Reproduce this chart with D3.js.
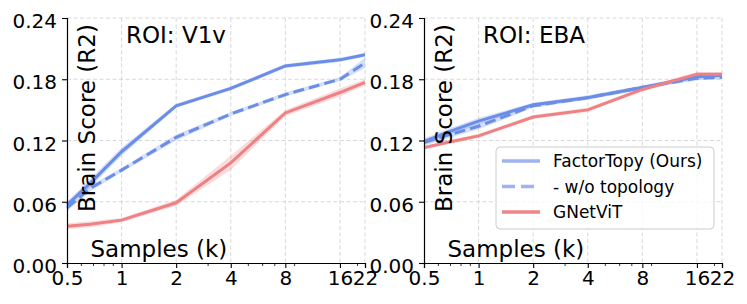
<!DOCTYPE html>
<html>
<head>
<meta charset="utf-8">
<script src="https://cdn.jsdelivr.net/npm/d3@7/dist/d3.min.js"></script>
<style>
  html, body { margin: 0; padding: 0; background: #fff; }
  svg { display: block; font-family: "DejaVu Sans", sans-serif; }
</style>
</head>
<body>
<div id="chart"></div>
<script>
// samples (k) on a log axis
const samples = [0.5, 0.67, 1, 2, 4, 8, 16, 22];
const xTicks = [0.5, 1, 2, 4, 8, 16, 22];
const xMinor = [0.6, 0.7, 0.8, 0.9, 3, 5, 6, 7, 9, 20];
const yTicks = [0, 0.06, 0.12, 0.18, 0.24];

// ROI: V1v
const v1vFactorTopy = [0.057, 0.078, 0.109, 0.154, 0.171, 0.193, 0.199, 0.204];
const v1vFactorTopyErr = [0.003, 0.004, 0.004, 0.002, 0.002, 0.002, 0.002, 0.002];
const v1vNoTopo = [0.054, 0.073, 0.091, 0.123, 0.146, 0.165, 0.180, 0.196];
const v1vNoTopoErr = [0.003, 0.003, 0.002, 0.003, 0.002, 0.002, 0.002, 0.005];
const v1vGNet = [0.036, 0.038, 0.042, 0.059, 0.098, 0.147, 0.167, 0.177];
const v1vGNetErr = [0.003, 0.003, 0.002, 0.003, 0.007, 0.003, 0.004, 0.003];

// ROI: EBA
const ebaFactorTopy = [0.119, 0.128, 0.139, 0.155, 0.162, 0.172, 0.1825, 0.184];
const ebaFactorTopyErr = [0.003, 0.003, 0.003, 0.002, 0.002, 0.002, 0.002, 0.002];
const ebaNoTopo = [0.118, 0.125, 0.134, 0.154, 0.162, 0.172, 0.181, 0.182];
const ebaNoTopoErr = [0.003, 0.003, 0.003, 0.002, 0.002, 0.002, 0.002, 0.002];
const ebaGNet = [0.113, 0.118, 0.1245, 0.143, 0.150, 0.170, 0.185, 0.185];
const ebaGNetErr = [0.002, 0.002, 0.002, 0.002, 0.002, 0.002, 0.002, 0.002];

const legendLabels = ["FactorTopy (Ours)", "- w/o topology", "GNetViT"];

const BLUE = "#6a8de8";
const RED = "#ef8083";

const WIDTH = 747, HEIGHT = 304;
const PW = 298, PH = 245, TOP = 18;

const svg = d3.select("#chart").append("svg")
  .attr("width", WIDTH).attr("height", HEIGHT);

const x = d3.scaleLog().domain([0.5, 22]).range([0, PW]);
const y = d3.scaleLinear().domain([0, 0.24]).range([PH, 0]);

const line = d3.line().x(d => x(d.x)).y(d => y(d.v));
const band = d3.area().x(d => x(d.x)).y0(d => y(d.v - d.e)).y1(d => y(d.v + d.e));

function pts(vals, errs) {
  return samples.map((s, i) => ({ x: s, v: vals[i], e: errs[i] }));
}

function drawPanel(left, title, series) {
  const g = svg.append("g").attr("transform", `translate(${left},${TOP})`);

  // grid
  g.selectAll("line.hgrid").data(yTicks.slice(1)).join("line")
    .attr("x1", 0).attr("x2", PW)
    .attr("y1", d => y(d)).attr("y2", d => y(d))
    .attr("stroke", "#d4d4d4").attr("stroke-width", 0.9).attr("stroke-dasharray", "4,2.5");
  g.selectAll("line.vgrid").data(xTicks.slice(1)).join("line")
    .attr("x1", d => x(d)).attr("x2", d => x(d))
    .attr("y1", 0).attr("y2", PH)
    .attr("stroke", "#d4d4d4").attr("stroke-width", 0.9).attr("stroke-dasharray", "4,2.5");

  // bands then lines
  series.forEach(s => {
    g.append("path").datum(s.data)
      .attr("d", band).attr("fill", s.color).attr("fill-opacity", 0.28);
  });
  series.forEach(s => {
    g.append("path").datum(s.data)
      .attr("d", line).attr("fill", "none")
      .attr("stroke", s.color).attr("stroke-width", 3)
      .attr("stroke-dasharray", s.dash || null);
  });

  // axes
  const xAxis = d3.axisBottom(x).tickValues(xTicks)
    .tickFormat(d => d < 1 ? "0.5" : d3.format("d")(d))
    .tickSize(5).tickPadding(3);
  const gx = g.append("g").attr("transform", `translate(0,${PH})`).call(xAxis);
  gx.selectAll("text").attr("font-size", 20).attr("font-family", "DejaVu Sans").attr("fill", "#000");
  gx.select(".domain").attr("stroke", "#000").attr("stroke-width", 1.2);
  gx.selectAll(".tick line").attr("stroke", "#000").attr("stroke-width", 1.1);
  g.append("g").attr("transform", `translate(0,${PH})`)
    .selectAll("line").data(xMinor).join("line")
    .attr("x1", d => x(d)).attr("x2", d => x(d))
    .attr("y1", 0).attr("y2", 3)
    .attr("stroke", "#000").attr("stroke-width", 0.8);

  const yAxis = d3.axisLeft(y).tickValues(yTicks).tickFormat(d3.format(".2f"))
    .tickSize(5).tickPadding(5);
  const gy = g.append("g").call(yAxis);
  gy.selectAll("text").attr("font-size", 20).attr("font-family", "DejaVu Sans")
    .attr("fill", "#000").attr("dy", "0.48em");
  gy.select(".domain").attr("stroke", "#000").attr("stroke-width", 1.2);
  gy.selectAll(".tick line").attr("stroke", "#000").attr("stroke-width", 1.1);

  // labels
  g.append("text").attr("x", 59).attr("y", 25)
    .attr("font-size", 23).text(title);
  g.append("text").attr("transform", `translate(27.5,194) rotate(-90)`)
    .attr("font-size", 23).text("Brain Score (R2)");
  g.append("text").attr("x", 23.5).attr("y", 239)
    .attr("font-size", 23).text("Samples (k)");
  return g;
}

drawPanel(67, "ROI: V1v", [
  { data: pts(v1vFactorTopy, v1vFactorTopyErr), color: BLUE },
  { data: pts(v1vNoTopo, v1vNoTopoErr), color: BLUE, dash: "11,5" },
  { data: pts(v1vGNet, v1vGNetErr), color: RED }
]);

const gR = drawPanel(424, "ROI: EBA", [
  { data: pts(ebaFactorTopy, ebaFactorTopyErr), color: BLUE },
  { data: pts(ebaNoTopo, ebaNoTopoErr), color: BLUE, dash: "11,5" },
  { data: pts(ebaGNet, ebaGNetErr), color: RED }
]);

// legend
const lg = gR.append("g").attr("transform", "translate(72,129)");
lg.append("rect").attr("width", 218).attr("height", 82).attr("rx", 4)
  .attr("fill", "#fff").attr("fill-opacity", 0.8)
  .attr("stroke", "#cccccc").attr("stroke-width", 1);
const legendStyles = [
  { color: "#9fb3f1", dash: null },
  { color: "#9fb3f1", dash: "13,6" },
  { color: "#f08487", dash: null }
];
legendLabels.forEach((lab, i) => {
  const cy = 14 + i * 25.5;
  lg.append("line").attr("x1", 6).attr("x2", 44).attr("y1", cy).attr("y2", cy)
    .attr("stroke", legendStyles[i].color).attr("stroke-width", 3.5)
    .attr("stroke-dasharray", legendStyles[i].dash);
  lg.append("text").attr("x", 57).attr("y", cy + 6)
    .attr("font-size", 17).text(lab);
});
</script>
</body>
</html>
